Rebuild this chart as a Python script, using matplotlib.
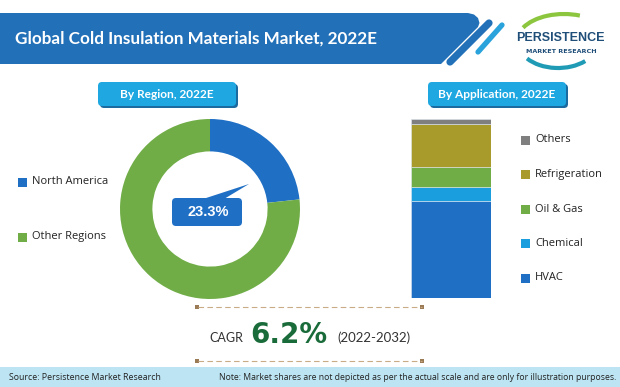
import matplotlib
matplotlib.use("Agg")
import matplotlib.pyplot as plt
from matplotlib.patches import FancyBboxPatch, Polygon, Rectangle, Arc

# ---------------- data ----------------
region_labels = ["North America", "Other Regions"]
region_shares = [23.3, 76.7]
region_colors = ["#1f6fc5", "#70ad47"]

app_labels = ["HVAC", "Chemical", "Oil & Gas", "Refrigeration", "Others"]
app_shares = [54, 8, 11, 24, 3]
app_colors = ["#1f6fc5", "#1a9ede", "#70ad47", "#a99b2b", "#7f7f7f"]

title = "Global Cold Insulation Materials Market, 2022E"
region_title = "By Region, 2022E"
app_title = "By Application, 2022E"
cagr_value = 6.2
cagr_period = "(2022-2032)"
source_text = "Source: Persistence Market Research"
note_text = "Note: Market shares are not depicted as per the actual scale and are only for illustration purposes."

W, H = 620, 387
fig = plt.figure(figsize=(W / 100, H / 100), dpi=100)
fig.patch.set_facecolor("white")


def fax(x0, y0, x1, y1):
    """axes from pixel box (top-left origin)"""
    return fig.add_axes([x0 / W, 1 - y1 / H, (x1 - x0) / W, (y1 - y0) / H])


# ---------------- donut ----------------
axd = fax(120, 119, 300, 299)
axd.pie(region_shares, colors=region_colors, startangle=90, counterclock=False,
        radius=1.0, wedgeprops=dict(width=0.36, linewidth=0))
axd.set_xlim(-1, 1)
axd.set_ylim(-1, 1)
axd.set_aspect("equal")
axd.axis("off")

# ---------------- stacked bar ----------------
axb = fax(411, 119, 491, 298)
bottom = 0
for v, c in zip(app_shares, app_colors):
    axb.bar([0], [v], bottom=bottom, width=1.0, color=c, edgecolor="#dfe8f0", linewidth=0.4)
    bottom += v
axb.set_xlim(-0.5, 0.5)
axb.set_ylim(0, sum(app_shares))
axb.axis("off")

# ---------------- overlay ----------------
ov = fig.add_axes([0, 0, 1, 1], zorder=5)
ov.set_xlim(0, W)
ov.set_ylim(H, 0)
ov.axis("off")
ov.patch.set_alpha(0)

# header bar
hdr = Polygon([(0, 13), (468, 13), (474, 14.5), (478, 18), (479.5, 23), (478, 27),
               (441, 64), (0, 64)], closed=True, facecolor="#2170b8", edgecolor="none")
ov.add_patch(hdr)
ov.text(15, 39, title, color="white", fontsize=12.3, fontweight="bold",
        family="Lato", va="center", ha="left")
# stripes
ov.plot([450, 489], [62, 23], color="#2170b8", lw=5.2, solid_capstyle="round")
ov.plot([478, 502], [52, 25], color="#2aa3dc", lw=3.8, solid_capstyle="round")

# logo
ov.add_patch(Arc((564, 41), 94, 54, theta1=198, theta2=302, color="#8cc63f", lw=3))
ov.add_patch(Arc((558, 42), 80, 52, theta1=35, theta2=152, color="#1f9bb5", lw=3))
ov.text(560, 38, "PERSISTENCE", color="#1f4e79", fontsize=9, fontweight="bold",
        family="Liberation Sans", ha="center", va="center")
ov.text(561, 51.5, "MARKET RESEARCH", color="#1f4e79", fontsize=4.6, fontweight="bold",
        family="DejaVu Sans", ha="center", va="center")


def label_box(x0, x1, text):
    sh = FancyBboxPatch((x0 + 2, 84), x1 - x0, 24, boxstyle="round,pad=0,rounding_size=4",
                        facecolor="#1b6aa0", edgecolor="none")
    ov.add_patch(sh)
    bx = FancyBboxPatch((x0, 82), x1 - x0, 24, boxstyle="round,pad=0,rounding_size=4",
                        facecolor="#1ea7e1", edgecolor="none")
    ov.add_patch(bx)
    ov.text((x0 + x1) / 2, 94, text, color="white", fontsize=8.6, fontweight="bold",
            family="Lato", ha="center", va="center")


label_box(98, 236, region_title)
label_box(428, 566, app_title)

# donut legend
for i, (lab, col) in enumerate(zip(region_labels, region_colors)):
    y = 182 + i * 55
    ov.add_patch(Rectangle((18, y - 4.5), 9, 9, facecolor=col, edgecolor="none"))
    ov.text(32, y, lab, fontsize=8, family="Open Sans", color="#222222", va="center")

# callout
ov.add_patch(Polygon([(203, 199), (224, 199), (249, 184)], closed=True,
                     facecolor="#1f6fc5", edgecolor="none"))
ov.add_patch(FancyBboxPatch((172, 198), 70, 28, boxstyle="round,pad=0,rounding_size=4",
                            facecolor="#1f6fc5", edgecolor="none"))
ov.text(208, 212.5, f"{region_shares[0]}%", color="white", fontsize=10.5, fontweight="bold",
        family="Liberation Sans", ha="center", va="center")

# bar legend (top to bottom)
for i, (lab, col) in enumerate(zip(app_labels[::-1], app_colors[::-1])):
    y = 140 + i * 34.5
    ov.add_patch(Rectangle((521, y - 4.5), 9, 9, facecolor=col, edgecolor="none"))
    ov.text(535, y, lab, fontsize=8, family="Open Sans", color="#222222", va="center")

# CAGR block
for yy in (307, 361):
    ov.plot([198, 422], [yy, yy], color="#c9ab85", lw=0.8, ls=(0, (5, 3)))
    ov.add_patch(Rectangle((195, yy - 2), 4, 4, facecolor="#9b7b55", edgecolor="none"))
    ov.add_patch(Rectangle((420, yy - 2), 4, 4, facecolor="#9b7b55", edgecolor="none"))
ov.text(243, 342, "CAGR", fontsize=9, family="Lato", color="#333333", ha="right", va="baseline")
ov.text(250, 343, f"{cagr_value}%", fontsize=20, fontweight="bold", family="DejaVu Sans",
        color="#1a6b3a", ha="left", va="baseline")
ov.text(337, 342, cagr_period, fontsize=9.5, family="Lato", color="#333333", ha="left", va="baseline")

# footer
ov.add_patch(Rectangle((0, 367), W, 20, facecolor="#bde4f2", edgecolor="none"))
ov.text(9, 377, source_text, fontsize=6.3, family="Open Sans", color="#222222", va="center")
ov.text(616, 377, note_text, fontsize=6.25, family="Open Sans", color="#222222", va="center", ha="right")

fig.savefig("out.png", dpi=100)
